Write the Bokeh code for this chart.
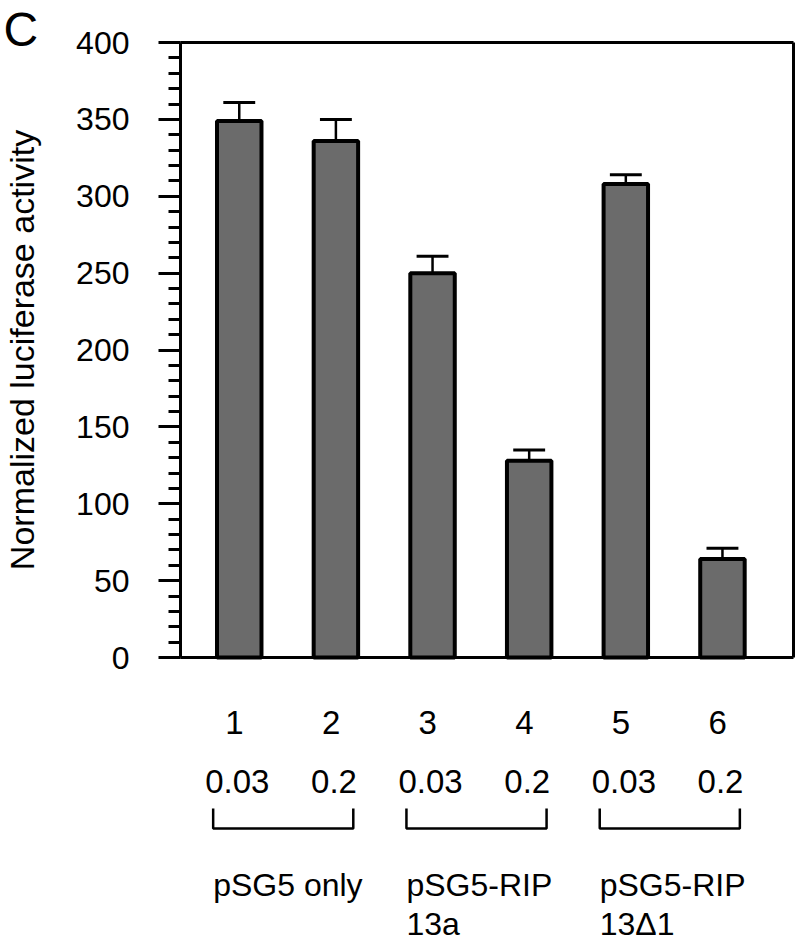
from bokeh.plotting import figure
from bokeh.layouts import column
from bokeh.models import Range1d, SingleIntervalTicker, ColumnDataSource
from bokeh.core.properties import value
from bokeh.embed import file_html
from bokeh.resources import INLINE

# ---- data ----
lanes = [1, 2, 3, 4, 5, 6]
lane_labels = ["1", "2", "3", "4", "5", "6"]
dose_labels = ["0.03", "0.2", "0.03", "0.2", "0.03", "0.2"]
activity = [349, 336, 250, 128, 308, 64]
error = [12, 14, 11, 7, 6, 7]
group_lanes = [(1, 2), (3, 4), (5, 6)]
group_line1 = ["pSG5 only", "pSG5-RIP", "pSG5-RIP"]
group_line2 = ["", "13a", "13\u03941"]
y_min, y_max, y_step = 0, 400, 50

FONT = "Liberation Sans"

# ---- layout constants (canvas pixels) ----
W, H = 800, 940
PX_PER_Y = 1.5375
PX_PER_X = 96.64
LEFT = 180
FRAME_W = W - LEFT
X0 = 0.392
X1 = X0 + FRAME_W / PX_PER_X
X_RIGHT = X0 + 613 / PX_PER_X
Y1 = y_max + 4 / PX_PER_Y
Y0 = y_min - 4 / PX_PER_Y
TOP_BORDER = 38
FRAME_H = 623
BOTTOM_BORDER = 20
TOP_H = TOP_BORDER + FRAME_H + BOTTOM_BORDER      # 0 .. 681
BOT_H = H - TOP_H                                 # 681 .. 940

xr = Range1d(X0, X1)

p = figure(width=W, height=TOP_H, output_backend="svg", toolbar_location=None,
           x_range=xr, y_range=Range1d(Y0, Y1),
           x_axis_location=None, min_border_left=LEFT, min_border_right=0,
           min_border_top=TOP_BORDER, min_border_bottom=BOTTOM_BORDER)
p.outline_line_color = None
p.xgrid.visible = False
p.ygrid.visible = False

# panel letter as title
p.title.text = "C"
p.title.text_font = FONT
p.title.text_font_size = "48px"
p.title.text_font_style = "normal"
p.title.text_color = "black"
p.title.align = "left"
p.title.offset = -177
p.title.standoff = -34

ax = p.yaxis[0]
ax.ticker = SingleIntervalTicker(interval=y_step, num_minor_ticks=5)
ax.bounds = (y_min, y_max)
ax.axis_line_width = 3
ax.major_tick_line_width = 3
ax.minor_tick_line_width = 3
ax.major_tick_out = 22
ax.major_tick_in = 0
ax.minor_tick_out = 12
ax.minor_tick_in = 0
ax.major_label_text_font = FONT
ax.major_label_text_font_size = "32px"
ax.major_label_text_color = "black"
ax.major_label_standoff = 29
ax.axis_label = "Normalized luciferase activity"
ax.axis_label_text_font = FONT
ax.axis_label_text_font_size = "34px"
ax.axis_label_text_font_style = "normal"
ax.axis_label_text_color = "black"
ax.axis_label_standoff = 32

# frame lines (top, bottom, right)
p.segment(x0=[X0, X0, X_RIGHT], y0=[y_max, y_min, y_min],
          x1=[X_RIGHT, X_RIGHT, X_RIGHT], y1=[y_max, y_min, y_max],
          line_color="black", line_width=3)

# error bars
upper = [a + e for a, e in zip(activity, error)]
src = ColumnDataSource(dict(x=lanes, top=activity, up=upper,
                            cl=[x - 0.165 for x in lanes], cr=[x + 0.165 for x in lanes]))
p.segment(x0="x", y0="top", x1="x", y1="up", source=src, line_color="black", line_width=2.5)
p.segment(x0="cl", y0="up", x1="cr", y1="up", source=src, line_color="black", line_width=3)

# bars
p.vbar(x="x", top="top", bottom=0, width=0.46, source=src,
       fill_color="#6b6b6b", line_color="black", line_width=4)

# ---- lower annotation panel (y in canvas pixels) ----
q = figure(width=W, height=BOT_H, output_backend="svg", toolbar_location=None,
           x_range=xr, y_range=Range1d(H, TOP_H),
           x_axis_location=None, y_axis_location=None,
           min_border_left=LEFT, min_border_right=0, min_border_top=0, min_border_bottom=0)
q.outline_line_color = None
q.xgrid.visible = False
q.ygrid.visible = False

TXT = dict(text_font=value(FONT), text_font_size="33px", text_color="black",
           text_baseline="alphabetic")
q.text(x=[x - 0.05 for x in lanes], y=[722] * 6, text=lane_labels, text_align="center", **TXT)
q.text(x=[x - 0.02 for x in lanes], y=[781] * 6, text=dose_labels, text_align="center", **TXT)

xs, ys = [], []
for a, b in group_lanes:
    l, r = a - 0.27, b + 0.18
    xs.append([l, l, r, r])
    ys.append([808, 828, 828, 808])
q.multi_line(xs=xs, ys=ys, line_color="black", line_width=2.5)

GTXT = dict(TXT, text_font_size="32px")
lefts = [a - 0.27 for a, b in group_lanes]
q.text(x=lefts, y=[884] * 3, text=group_line1, text_align="left", **GTXT)
q.text(x=lefts, y=[923] * 3, text=group_line2, text_align="left", **GTXT)

layout = column(p, q, spacing=0)
open("out.html", "w").write(file_html(layout, INLINE))
